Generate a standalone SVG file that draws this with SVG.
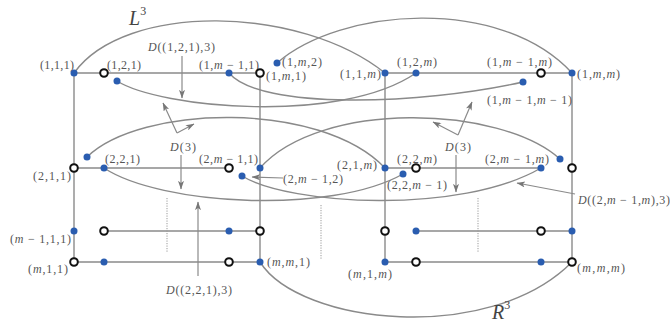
<svg xmlns="http://www.w3.org/2000/svg" width="670" height="327" viewBox="0 0 670 327">
<style>
.lb{font-family:"Liberation Serif",serif;font-size:12px;fill:#555}
.big{font-family:"Liberation Serif",serif;font-size:20px;font-style:italic;fill:#444}
.i{font-style:italic}
.ln{stroke:#8a8a8a;stroke-width:1.4;fill:none}
.cv{stroke:#8a8a8a;stroke-width:1.4;fill:none}
.ar{stroke:#8a8a8a;stroke-width:1.2;fill:none;marker-end:url(#ah)}
.dt{stroke:#999;stroke-width:1;stroke-dasharray:1.2,1.3;fill:none}
.b{fill:#2a5db0}
.k{fill:#fff;stroke:#111;stroke-width:2}
</style>
<defs>
<marker id="ah" viewBox="0 0 10 7" refX="9.5" refY="3.5" markerWidth="9" markerHeight="6" markerUnits="userSpaceOnUse" orient="auto">
<path d="M0,0 L10,3.5 L0,7 L2.5,3.5 z" fill="#777"/>
</marker>
</defs>
<rect width="670" height="327" fill="#fff"/>

<g id="connectors">
<line class="ln" x1="74" y1="73" x2="260" y2="73"/>
<line class="ln" x1="385" y1="73" x2="572" y2="73"/>
<line class="ln" x1="74" y1="168" x2="229" y2="168"/>
<line class="ln" x1="385" y1="168" x2="541" y2="168"/>
<line class="ln" x1="104" y1="231" x2="260" y2="231"/>
<line class="ln" x1="416" y1="231" x2="572" y2="231"/>
<line class="ln" x1="74" y1="262" x2="260" y2="262"/>
<line class="ln" x1="385" y1="262" x2="572" y2="262"/>
<line class="ln" x1="74" y1="73" x2="74" y2="262"/>
<line class="ln" x1="260" y1="73" x2="260" y2="262"/>
<line class="ln" x1="385" y1="73" x2="385" y2="262"/>
<line class="ln" x1="572" y1="73" x2="572" y2="262"/>
<line class="dt" x1="167" y1="198" x2="167" y2="253"/>
<line class="dt" x1="321" y1="205" x2="321" y2="260"/>
<line class="dt" x1="478" y1="198" x2="478" y2="253"/>
<path class="cv" d="M74,73 C125,2 300,5 385,73"/>
<path class="cv" d="M277,63 C340,8 500,-5 572,73"/>
<path class="cv" d="M117,81 C160,108 340,125 416,73"/>
<path class="cv" d="M229,73 C260,110 420,105 523,82"/>
<path class="cv" d="M87,157 C140,105 320,100 385,168"/>
<path class="cv" d="M260,168 C320,100 500,105 560,159"/>
<path class="cv" d="M104,168 C160,205 330,215 403,174"/>
<path class="cv" d="M242,176 C290,205 460,215 541,168"/>
<path class="cv" d="M260,262 C300,325 490,345 572,262"/>
<line class="ar" x1="182" y1="56" x2="182" y2="98"/>
<line class="ar" x1="177" y1="133" x2="163" y2="103"/>
<line class="ar" x1="177" y1="133" x2="194" y2="124"/>
<line class="ar" x1="181" y1="155" x2="181" y2="189"/>
<line class="ar" x1="458" y1="135" x2="472" y2="102"/>
<line class="ar" x1="458" y1="135" x2="433" y2="122"/>
<line class="ar" x1="456" y1="155" x2="456" y2="192"/>
<line class="ar" x1="198" y1="276" x2="198" y2="202"/>
<line class="ar" x1="283" y1="178" x2="252" y2="177"/>
<line class="ar" x1="575" y1="194" x2="517" y2="183"/>
</g>

<g id="annotations">
<text class="big" x="129" y="25">L<tspan font-size="12" dy="-10" font-style="normal">3</tspan></text>
<text class="big" x="492" y="319">R<tspan font-size="12" dy="-10" font-style="normal">3</tspan></text>
<text class="lb" x="148" y="51" textLength="67"><tspan class="i">D</tspan>((1,2,1),3)</text>
<text class="lb" x="170" y="151" textLength="26"><tspan class="i">D</tspan>(3)</text>
<text class="lb" x="445" y="151" textLength="26"><tspan class="i">D</tspan>(3)</text>
<text class="lb" x="166" y="294" textLength="66"><tspan class="i">D</tspan>((2,2,1),3)</text>
<text class="lb" x="578" y="204" textLength="92"><tspan class="i">D</tspan>((2,<tspan class="i">m</tspan> − 1,<tspan class="i">m</tspan>),3)</text>
</g>

<g id="n111"><circle class="b" cx="74" cy="73" r="3.5"/><text class="lb" x="40" y="69" textLength="34">(1,1,1)</text></g>
<g id="n121"><circle class="k" cx="104" cy="73" r="3.8"/><text class="lb" x="107" y="69" textLength="34">(1,2,1)</text></g>
<g id="n121b"><circle class="b" cx="117" cy="81" r="3.5"/></g>
<g id="n1m11"><circle class="b" cx="229" cy="73" r="3.5"/><text class="lb" x="199" y="69" textLength="60">(1,<tspan class="i">m</tspan> − 1,1)</text></g>
<g id="n1m1"><circle class="k" cx="260" cy="73" r="3.8"/><text class="lb" x="266" y="80" textLength="40">(1,<tspan class="i">m</tspan>,1)</text></g>
<g id="n1m2"><circle class="b" cx="277" cy="63" r="3.5"/><text class="lb" x="282" y="66" textLength="40">(1,<tspan class="i">m</tspan>,2)</text></g>
<g id="n11m"><circle class="b" cx="385" cy="73" r="3.5"/><text class="lb" x="340" y="78" textLength="41">(1,1,<tspan class="i">m</tspan>)</text></g>
<g id="n12m"><circle class="b" cx="416" cy="73" r="3.5"/><text class="lb" x="397" y="66" textLength="40">(1,2,<tspan class="i">m</tspan>)</text></g>
<g id="n1m1m"><circle class="k" cx="541" cy="73" r="3.8"/><text class="lb" x="487" y="66" textLength="65">(1,<tspan class="i">m</tspan> − 1,<tspan class="i">m</tspan>)</text></g>
<g id="n1mm"><circle class="b" cx="572" cy="73" r="3.5"/><text class="lb" x="577" y="78" textLength="43">(1,<tspan class="i">m</tspan>,<tspan class="i">m</tspan>)</text></g>
<g id="n1m1m1"><circle class="b" cx="523" cy="82" r="3.5"/><text class="lb" x="487" y="104" textLength="85">(1,<tspan class="i">m</tspan> − 1,<tspan class="i">m</tspan> − 1)</text></g>

<g id="n211"><circle class="k" cx="74" cy="168" r="3.8"/><text class="lb" x="33" y="180" textLength="38">(2,1,1)</text></g>
<g id="n221"><circle class="b" cx="104" cy="168" r="3.5"/><text class="lb" x="105" y="163" textLength="35">(2,2,1)</text></g>
<g id="n221b"><circle class="b" cx="87" cy="157" r="3.5"/></g>
<g id="n2m11"><circle class="k" cx="229" cy="168" r="3.8"/><text class="lb" x="199" y="163" textLength="59">(2,<tspan class="i">m</tspan> − 1,1)</text></g>
<g id="n2m1"><circle class="b" cx="260" cy="168" r="3.5"/></g>
<g id="n2m12"><circle class="b" cx="242" cy="176" r="3.5"/><text class="lb" x="283" y="183" textLength="60">(2,<tspan class="i">m</tspan> − 1,2)</text></g>
<g id="n21m"><circle class="b" cx="385" cy="168" r="3.5"/><text class="lb" x="337" y="169" textLength="40">(2,1,<tspan class="i">m</tspan>)</text></g>
<g id="n22m"><circle class="k" cx="416" cy="168" r="3.8"/><text class="lb" x="397" y="163" textLength="40">(2,2,<tspan class="i">m</tspan>)</text></g>
<g id="n22m1"><circle class="b" cx="403" cy="174" r="3.5"/><text class="lb" x="387" y="189" textLength="60">(2,2,<tspan class="i">m</tspan> − 1)</text></g>
<g id="n2m1m"><circle class="b" cx="541" cy="168" r="3.5"/><text class="lb" x="485" y="163" textLength="64">(2,<tspan class="i">m</tspan> − 1,<tspan class="i">m</tspan>)</text></g>
<g id="n2m1mb"><circle class="b" cx="560" cy="159" r="3.5"/></g>
<g id="n2mm"><circle class="k" cx="572" cy="168" r="3.8"/></g>

<g id="nm111"><circle class="b" cx="74" cy="231" r="3.5"/><text class="lb" x="10" y="243" textLength="61">(<tspan class="i">m</tspan> − 1,1,1)</text></g>
<g id="nm121"><circle class="k" cx="104" cy="231" r="3.8"/></g>
<g id="nm1m11"><circle class="b" cx="229" cy="231" r="3.5"/></g>
<g id="nm1m1"><circle class="k" cx="260" cy="231" r="3.8"/></g>
<g id="nm11"><circle class="k" cx="74" cy="262" r="3.8"/><text class="lb" x="28" y="273" textLength="40">(<tspan class="i">m</tspan>,1,1)</text></g>
<g id="nm21"><circle class="b" cx="104" cy="262" r="3.5"/></g>
<g id="nmm11"><circle class="k" cx="229" cy="262" r="3.8"/></g>
<g id="nmm1"><circle class="b" cx="260" cy="262" r="3.5"/><text class="lb" x="267" y="266" textLength="43">(<tspan class="i">m</tspan>,<tspan class="i">m</tspan>,1)</text></g>

<g id="nm11m"><circle class="k" cx="385" cy="231" r="3.8"/></g>
<g id="nm12m"><circle class="b" cx="416" cy="231" r="3.5"/></g>
<g id="nm1m1m"><circle class="k" cx="541" cy="231" r="3.8"/></g>
<g id="nm1mm"><circle class="b" cx="572" cy="231" r="3.5"/></g>
<g id="nm1m"><circle class="b" cx="385" cy="262" r="3.5"/><text class="lb" x="348" y="278" textLength="44">(<tspan class="i">m</tspan>,1,<tspan class="i">m</tspan>)</text></g>
<g id="nm2m"><circle class="k" cx="416" cy="262" r="3.8"/></g>
<g id="nmm1m"><circle class="b" cx="541" cy="262" r="3.5"/></g>
<g id="nmmm"><circle class="k" cx="572" cy="262" r="3.8"/><text class="lb" x="577" y="272" textLength="48">(<tspan class="i">m</tspan>,<tspan class="i">m</tspan>,<tspan class="i">m</tspan>)</text></g>
</svg>
